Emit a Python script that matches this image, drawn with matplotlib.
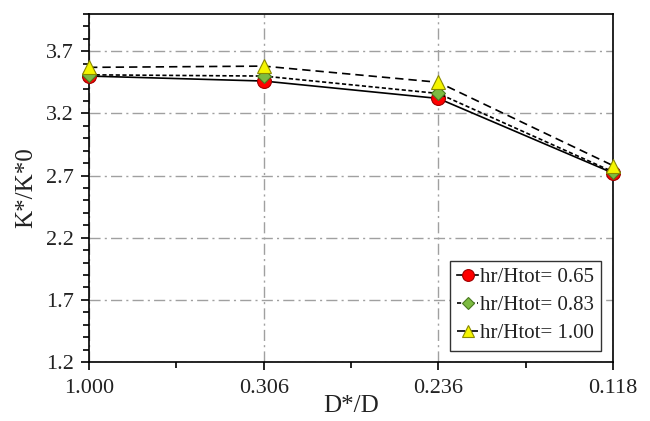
import matplotlib
matplotlib.use("Agg")
import matplotlib.pyplot as plt
from matplotlib.ticker import MultipleLocator, FixedLocator

plt.rcParams['font.family'] = ['Liberation Serif', 'DejaVu Serif']

x_labels = ["1.000", "0.306", "0.236", "0.118"]
k_065 = [3.50, 3.46, 3.32, 2.72]
k_083 = [3.51, 3.50, 3.36, 2.73]
k_100 = [3.57, 3.58, 3.45, 2.78]

fig, ax = plt.subplots(figsize=(6.5, 4.21), dpi=100)
fig.subplots_adjust(left=0.137, right=0.943, top=0.967, bottom=0.14)

pos = range(len(x_labels))
ax.plot(pos, k_065, '-', color='black', lw=1.2, marker='o', ms=10,
        mfc='red', mec='#a00000', mew=0.8, label='hr/Htot= 0.65',
        zorder=3, clip_on=False)
ax.plot(pos, k_083, linestyle=(0, (2.5, 1.5)), color='black', lw=1.2, marker='D', ms=7,
        mfc='#7dbb42', mec='#4a7a20', mew=0.8, label='hr/Htot= 0.83',
        zorder=4, clip_on=False)
ax.plot(pos, k_100, linestyle=(0, (5, 3)), color='black', lw=1.2, marker='^', ms=10,
        mfc='#f5f500', mec='#8a8a00', mew=0.8, label='hr/Htot= 1.00',
        zorder=5, clip_on=False)

ax.set_xlim(0, 3)
ax.set_ylim(1.2, 4.0)
ax.set_xticks(list(pos))
ax.set_xticklabels(x_labels)
ax.xaxis.set_minor_locator(MultipleLocator(0.5))
ax.yaxis.set_major_locator(FixedLocator([1.2, 1.7, 2.2, 2.7, 3.2, 3.7]))
ax.yaxis.set_minor_locator(MultipleLocator(0.1))
ax.tick_params(which='both', direction='out', labelsize=16, width=1.2,
               labelcolor='#222222')
ax.tick_params(which='major', length=6, pad=5)
ax.tick_params(axis='x', which='major', pad=6)
ax.tick_params(which='minor', length=4)

ax.grid(True, which='major', color='#a0a0a0', linestyle=(0, (8, 3, 1.5, 3)), lw=1)
for s in ax.spines.values():
    s.set_linewidth(1.2)

ax.set_xlabel("D*/D", fontsize=18, labelpad=-2, color='#222222')
ax.set_ylabel("K*/K*0", fontsize=18, labelpad=6, color='#222222')

leg = ax.legend(loc='lower right', fontsize=15, fancybox=False, edgecolor='#333333',
                framealpha=1, handlelength=1.0, handletextpad=0.1,
                borderaxespad=0.55, labelspacing=0.4, borderpad=0.35,
                markerscale=0.85)
leg.get_frame().set_linewidth(1.0)
for t in leg.get_texts():
    t.set_color('#222222')

fig.savefig("out.png", dpi=100)
